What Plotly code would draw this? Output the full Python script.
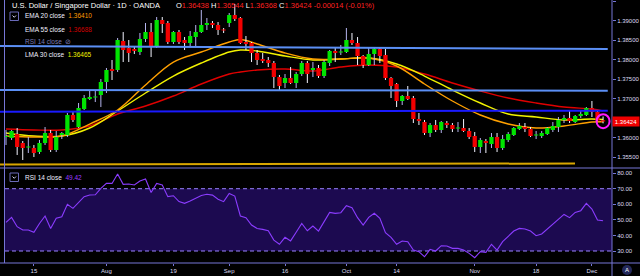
import plotly.graph_objects as go
import pandas as pd

# ---------------- data ----------------
dates = [d.strftime("%Y-%m-%d") for d in pd.bdate_range("2019-07-08", "2019-12-04")]
tick_dates = ["2019-07-15", "2019-08-01", "2019-08-19", "2019-09-02", "2019-09-16",
              "2019-10-01", "2019-10-14", "2019-11-01", "2019-11-18", "2019-12-02"]
tick_text = ["15", "Aug", "19", "Sep", "16", "Oct", "14", "Nov", "18", "Dec"]

opens = [1.36018, 1.35993, 1.36095, 1.35865, 1.35750, 1.35737, 1.35634, 1.35865, 1.36121, 1.35686,
         1.36070, 1.36070, 1.36582, 1.36274, 1.36735, 1.36991, 1.37030, 1.37094, 1.37426, 1.37759,
         1.37734, 1.38476, 1.38297, 1.38271, 1.38194, 1.38527, 1.38706, 1.38322, 1.39014, 1.38937,
         1.38450, 1.38706, 1.38502, 1.38425, 1.38578, 1.38706, 1.38886, 1.38937, 1.38886, 1.38770,
         1.38937, 1.39141, 1.39065, 1.38450, 1.38425, 1.38169, 1.38015, 1.37990, 1.37913, 1.37554,
         1.37401, 1.37529, 1.37401, 1.37631, 1.37913, 1.37734, 1.37785, 1.37580, 1.37913, 1.38220,
         1.38182, 1.38194, 1.38502, 1.38425, 1.38092, 1.37862, 1.38143, 1.38271, 1.38118, 1.37529,
         1.37375, 1.36940, 1.37068, 1.37017, 1.36479, 1.36402, 1.36121, 1.36326, 1.36198, 1.36377,
         1.36326, 1.36236, 1.36249, 1.36172, 1.36044, 1.35763, 1.35916, 1.35839, 1.36018, 1.35737,
         1.35942, 1.36070, 1.36223, 1.36274, 1.36223, 1.36057, 1.36044, 1.36095, 1.36198, 1.36274,
         1.36454, 1.36505, 1.36402, 1.36556, 1.36582, 1.36761, 1.36658, 1.36438]
highs = [1.36198, 1.36198, 1.36249, 1.35916, 1.36018, 1.35814, 1.35942, 1.36274, 1.36198, 1.36172,
         1.36146, 1.36633, 1.36684, 1.36889, 1.37094, 1.37222, 1.37222, 1.37503, 1.37785, 1.37990,
         1.38553, 1.38706, 1.38502, 1.38348, 1.38681, 1.38937, 1.38937, 1.39090, 1.39090, 1.38988,
         1.38732, 1.38758, 1.38578, 1.38732, 1.38886, 1.39270, 1.39065, 1.38988, 1.38962, 1.38809,
         1.39193, 1.39423, 1.39090, 1.38604, 1.38450, 1.38246, 1.38169, 1.38066, 1.37964, 1.37606,
         1.37631, 1.37810, 1.37682, 1.37964, 1.37964, 1.37938, 1.37862, 1.37990, 1.38246, 1.38322,
         1.38374, 1.38809, 1.38681, 1.38578, 1.38118, 1.38297, 1.38297, 1.38297, 1.38271, 1.37554,
         1.37401, 1.37094, 1.37324, 1.37068, 1.36633, 1.36454, 1.36377, 1.36454, 1.36428, 1.36428,
         1.36377, 1.36402, 1.36479, 1.36249, 1.36146, 1.35993, 1.35967, 1.36121, 1.36121, 1.36070,
         1.36146, 1.36274, 1.36377, 1.36377, 1.36274, 1.36172, 1.36172, 1.36274, 1.36402, 1.36530,
         1.36582, 1.36684, 1.36582, 1.36684, 1.36786, 1.36940, 1.36710, 1.36544]
lows = [1.35814, 1.35942, 1.35558, 1.35430, 1.35609, 1.35506, 1.35583, 1.35814, 1.35634, 1.35634,
        1.35967, 1.36018, 1.36402, 1.36249, 1.36710, 1.36966, 1.36914, 1.36786, 1.37145, 1.37478,
        1.37682, 1.37938, 1.37938, 1.38143, 1.38118, 1.38450, 1.38066, 1.38297, 1.38681, 1.38399,
        1.38399, 1.38399, 1.38246, 1.38322, 1.38322, 1.38681, 1.38758, 1.38809, 1.38630, 1.38681,
        1.38834, 1.38988, 1.38399, 1.38246, 1.37938, 1.37862, 1.37913, 1.37810, 1.37273, 1.37222,
        1.37273, 1.37375, 1.37273, 1.37580, 1.37401, 1.37554, 1.37529, 1.37529, 1.37836, 1.37938,
        1.38118, 1.38169, 1.38374, 1.37862, 1.37785, 1.37836, 1.37862, 1.37913, 1.37478, 1.37017,
        1.36786, 1.36838, 1.36966, 1.36377, 1.36326, 1.36070, 1.36018, 1.36146, 1.36121, 1.36249,
        1.36146, 1.36146, 1.36146, 1.35967, 1.35634, 1.35609, 1.35609, 1.35737, 1.35634, 1.35686,
        1.35890, 1.36044, 1.36198, 1.36146, 1.36018, 1.35967, 1.35993, 1.36070, 1.36146, 1.36146,
        1.36377, 1.36377, 1.36377, 1.36505, 1.36556, 1.36530, 1.36428, 1.36368]
closes = [1.36044, 1.36172, 1.35763, 1.35737, 1.35776, 1.35609, 1.35865, 1.36121, 1.35686, 1.36018,
          1.36121, 1.36582, 1.36454, 1.36761, 1.37017, 1.37042, 1.37055, 1.37426, 1.37734, 1.37708,
          1.38502, 1.38246, 1.38169, 1.38220, 1.38527, 1.38706, 1.38322, 1.39014, 1.38911, 1.38450,
          1.38706, 1.38450, 1.38425, 1.38604, 1.38706, 1.38886, 1.38937, 1.38886, 1.38758, 1.38745,
          1.39141, 1.39039, 1.38425, 1.38399, 1.38169, 1.37990, 1.37964, 1.37913, 1.37554, 1.37324,
          1.37529, 1.37401, 1.37631, 1.37913, 1.37631, 1.37785, 1.37580, 1.37938, 1.38220, 1.38169,
          1.38207, 1.38502, 1.38425, 1.38092, 1.37862, 1.38143, 1.38271, 1.38092, 1.37529, 1.37324,
          1.36940, 1.37068, 1.36991, 1.36479, 1.36428, 1.36121, 1.36326, 1.36198, 1.36402, 1.36326,
          1.36223, 1.36262, 1.36172, 1.36018, 1.35763, 1.35942, 1.35865, 1.36018, 1.35737, 1.35967,
          1.36095, 1.36249, 1.36300, 1.36223, 1.36044, 1.36082, 1.36121, 1.36249, 1.36300, 1.36454,
          1.36505, 1.36428, 1.36556, 1.36607, 1.36761, 1.36658, 1.36438, 1.36424]

rsi = [48.4, 51.6, 45.6, 43.5, 43.5, 42.0, 47.7, 52.5, 44.5, 51.0,
       52.0, 60.0, 57.4, 61.0, 64.9, 66.0, 66.1, 70.2, 73.4, 73.4,
       79.4, 72.8, 73.0, 72.4, 74.9, 76.2, 67.6, 73.4, 72.4, 64.9,
       65.5, 61.7, 60.6, 62.1, 63.8, 65.7, 66.4, 65.9, 63.2, 61.7,
       67.0, 65.3, 52.5, 51.4, 46.7, 44.5, 43.9, 43.0, 37.0, 34.3,
       38.8, 36.5, 42.0, 47.7, 43.0, 46.0, 42.8, 48.8, 54.8, 54.2,
       54.6, 59.1, 57.8, 51.4, 46.7, 51.6, 54.2, 51.0, 41.8, 38.8,
       34.3, 36.4, 36.0, 30.6, 29.6, 26.3, 31.1, 30.0, 33.4, 33.2,
       31.7, 31.7, 30.6, 28.5, 25.7, 29.6, 29.1, 34.3, 30.6, 36.0,
       39.2, 42.8, 44.5, 44.1, 42.8, 39.8, 40.9, 44.1, 47.1, 50.5,
       53.5, 51.4, 54.8, 55.9, 60.6, 56.9, 49.9, 49.42]

ma_dates = ["2019-07-08", "2019-07-15", "2019-07-22", "2019-07-29", "2019-08-05", "2019-08-12",
            "2019-08-19", "2019-08-26", "2019-09-02", "2019-09-04", "2019-09-09", "2019-09-16",
            "2019-09-23", "2019-09-30", "2019-10-07", "2019-10-14", "2019-10-21", "2019-10-28",
            "2019-11-04", "2019-11-11", "2019-11-18", "2019-11-25", "2019-12-02", "2019-12-04"]
ema20 = [1.36044, 1.36018, 1.36044, 1.36351, 1.36710, 1.37350, 1.37938, 1.38194, 1.38450, 1.38514,
         1.38399, 1.38169, 1.38015, 1.38015, 1.38041, 1.37836, 1.37375, 1.36940, 1.36582, 1.36351,
         1.36249, 1.36300, 1.36402, 1.36410]
lma30 = [1.36121, 1.36044, 1.36044, 1.36249, 1.36684, 1.37145, 1.37580, 1.37913, 1.38194, 1.38246,
         1.38220, 1.38092, 1.37990, 1.38015, 1.38041, 1.37887, 1.37580, 1.37222, 1.36889, 1.36607,
         1.36530, 1.36454, 1.36479, 1.36465]
ema55 = [1.36223, 1.36198, 1.36198, 1.36300, 1.36607, 1.36812, 1.37068, 1.37375, 1.37631, 1.37682,
         1.37734, 1.37759, 1.37708, 1.37810, 1.37862, 1.37810, 1.37631, 1.37401, 1.37196, 1.37017,
         1.36889, 1.36786, 1.36735, 1.36688]

# drawn trend lines: (start price, end price, end as fraction of width, colour)
line_start = [1.38348, 1.37222, 1.36666, 1.35314]
line_end = [1.38271, 1.37204, 1.36692, 1.35340]
line_xend = [0.993, 0.993, 0.993, 0.939]
line_color = ["#5b8ff5", "#5b8ff5", "#1a1aff", "#d9a600"]

# the 1.36500 label sits under the last-price tag in the reference, so it is not shown
price_ticks = [1.355, 1.360, 1.370, 1.375, 1.380, 1.385, 1.390, 1.395]
rsi_ticks = [30, 40, 50, 60, 70, 80]

# ---------------- layout helpers ----------------
W, H = 640, 276
ML, MR, MT, MB = 5, 28, 0, 13
PW, PH = W - ML - MR, H - MT - MB


def px(x):
    return (x - ML) / PW


def py(y):
    return (PH - (y - MT)) / PH


split = py(168)
idx = {d: i for i, d in enumerate(dates)}
xs = list(range(len(dates)))

BG = "#000000"
AX = "#7676d6"
TXT = "#dcdcf2"
GREEN = "#00e400"
RED = "#f20000"
FONT = "Liberation Sans"

fig = go.Figure()

# moving averages (under candles)
ma_x = [idx[d] for d in ma_dates]
for vals, col in [(ema55, "#e00000"), (lma30, "#f2f200"), (ema20, "#ffa000")]:
    fig.add_trace(go.Scatter(x=ma_x, y=vals, mode="lines", line=dict(color=col, width=1.4, shape="spline"),
                             hoverinfo="skip", yaxis="y"))

# wicks
wx_up, wy_up, wx_dn, wy_dn = [], [], [], []
for i in xs:
    if closes[i] >= opens[i]:
        wx_up += [i, i, None]
        wy_up += [lows[i], highs[i], None]
    else:
        wx_dn += [i, i, None]
        wy_dn += [lows[i], highs[i], None]
fig.add_trace(go.Scatter(x=wx_up, y=wy_up, mode="lines", line=dict(color="#b4b4ee", width=1),
                         hoverinfo="skip", yaxis="y"))
fig.add_trace(go.Scatter(x=wx_dn, y=wy_dn, mode="lines", line=dict(color="#f4f4ff", width=1),
                         hoverinfo="skip", yaxis="y"))

# bodies
hw = 0.38
minh = 0.0003
bx_up, by_up, bx_dn, by_dn = [], [], [], []
for i in xs:
    lo, hi = min(opens[i], closes[i]), max(opens[i], closes[i])
    if hi - lo < minh:
        mid = (hi + lo) / 2
        lo, hi = mid - minh / 2, mid + minh / 2
    rx = [i - hw, i + hw, i + hw, i - hw, i - hw, None]
    ry = [lo, lo, hi, hi, lo, None]
    if closes[i] >= opens[i]:
        bx_up += rx
        by_up += ry
    else:
        bx_dn += rx
        by_dn += ry
fig.add_trace(go.Scatter(x=bx_up, y=by_up, mode="lines", fill="toself", fillcolor=GREEN,
                         line=dict(width=0, color=GREEN), hoverinfo="skip", yaxis="y"))
fig.add_trace(go.Scatter(x=bx_dn, y=by_dn, mode="lines", fill="toself", fillcolor=RED,
                         line=dict(width=0, color=RED), hoverinfo="skip", yaxis="y"))

# RSI
fig.add_trace(go.Scatter(x=xs, y=rsi, mode="lines", line=dict(color="#8b3cff", width=1.1),
                         hoverinfo="skip", yaxis="y2"))

shapes = []
# RSI band
shapes.append(dict(type="rect", xref="paper", yref="y2", x0=0, x1=1, y0=30, y1=70,
                   fillcolor="#1c0a50", line=dict(width=0), layer="below"))
for lv in (70, 30):
    shapes.append(dict(type="line", xref="paper", yref="y2", x0=0, x1=1, y0=lv, y1=lv,
                       line=dict(color="#9a82ff", width=1, dash="4px,3px"), layer="below"))
# drawn lines
for s, e, xe, c in zip(line_start, line_end, line_xend, line_color):
    shapes.append(dict(type="line", xref="paper", yref="y", x0=px(0), x1=xe, y0=s, y1=e,
                       line=dict(color=c, width=2), layer="above"))
# frame lines
shapes.append(dict(type="line", xref="paper", yref="paper", x0=px(0), x1=px(W), y0=split, y1=split,
                   line=dict(color=AX, width=1)))
shapes.append(dict(type="line", xref="paper", yref="paper", x0=px(0), x1=px(W), y0=0, y1=0,
                   line=dict(color=AX, width=1)))
shapes.append(dict(type="line", xref="paper", yref="paper", x0=1, x1=1, y0=py(H), y1=1,
                   line=dict(color=AX, width=1)))
shapes.append(dict(type="line", xref="paper", yref="paper", x0=px(4.5), x1=px(4.5), y0=0, y1=1,
                   line=dict(color=AX, width=1)))
# highlight circle on the last candle
shapes.append(dict(type="circle", xref="x", yref="y", xsizemode="pixel", ysizemode="pixel",
                   xanchor=xs[-1], yanchor=closes[-1], x0=-6.5, x1=6.5, y0=-7, y1=7,
                   line=dict(color="#ff1aff", width=2)))
# dropdown boxes
for (bx0, by0) in [(10, 12), (10, 173)]:
    shapes.append(dict(type="rect", xref="paper", yref="paper", x0=px(bx0), x1=px(bx0 + 8.5),
                       y0=py(by0 + 8.5), y1=py(by0), line=dict(color="#6a6ab8", width=1)))
    shapes.append(dict(type="path", xref="paper", yref="paper",
                       path=f"M {px(bx0+2.5)},{py(by0+3.5)} L {px(bx0+4.25)},{py(by0+5.3)} L {px(bx0+6)},{py(by0+3.5)}",
                       line=dict(color="#d0d0f0", width=1)))
# "A" badge
shapes.append(dict(type="circle", xref="paper", yref="paper", x0=px(622), x1=px(632), y0=py(275), y1=py(265),
                   fillcolor="#23285a", line=dict(width=0)))

ann = []


def text(x, y, s, size=6.5, color=TXT, anchor="left"):
    ann.append(dict(x=px(x), y=py(y), xref="paper", yref="paper", text=s, showarrow=False,
                    xanchor=anchor, yanchor="middle", font=dict(family=FONT, size=size, color=color)))


text(10, 5, "U.S. Dollar / Singapore Dollar · 1D · OANDA", size=7.5, color="#ffffff")
chg = closes[-1] - closes[-2]
pct = chg / closes[-2] * 100
vr = "#ff2020"
ohlc = (f"O<span style='color:{vr}'>{opens[-1]:.5f}</span> H<span style='color:{vr}'>{highs[-1]:.5f}</span> "
        f"L<span style='color:{vr}'>{lows[-1]:.5f}</span> C<span style='color:{vr}'>{closes[-1]:.5f}</span> "
        f"<span style='color:{vr}'>{chg:.5f} ({pct:.2f}%)</span>")
text(174, 5, ohlc, size=7.5, color="#ffffff")

text(23, 16, f"EMA 20 close  <span style='color:#ff9a00'>{ema20[-1]:.5f}</span>", color="#f0f0ff")
text(23, 29, f"EMA 55 close  <span style='color:#d00000'>{ema55[-1]:.5f}</span>", color="#f0f0ff")
text(23, 41.5, "RSI 14 close  ⊘", color="#7c7cb4")
text(23, 54.5, f"LMA 30 close  <span style='color:#f0f000'>{lma30[-1]:.5f}</span>", color="#f0f0ff")
text(23, 177.5, f"RSI 14 close  <span style='color:#9b3cff'>{rsi[-1]:.2f}</span>", color="#f0f0ff")
text(627, 270, "A", size=6, color="#ffffff", anchor="center")
# last price tag
ann.append(dict(x=1.0, y=closes[-1], xref="paper", yref="y", text=f"{closes[-1]:.5f}", showarrow=False,
                xanchor="left", yanchor="middle", bgcolor="#f00000", width=26, height=9, borderpad=0,
                font=dict(family=FONT, size=6, color="#ffffff")))

fig.update_layout(
    width=W, height=H, margin=dict(l=ML, r=MR, t=MT, b=MB),
    paper_bgcolor=BG, plot_bgcolor=BG, showlegend=False,
    shapes=shapes, annotations=ann,
    font=dict(family=FONT, size=6, color=TXT),
    xaxis=dict(range=[-0.18, 108.6], showgrid=False, zeroline=False, showline=False,
               tickvals=[idx[d] for d in tick_dates], ticktext=tick_text, ticks="outside", ticklen=2,
               tickcolor=AX, tickfont=dict(family=FONT, size=6, color=TXT), anchor="y2", fixedrange=True),
    yaxis=dict(domain=[split, 1], range=[1.35225, 1.39526], side="right", anchor="x", showgrid=False,
               zeroline=False, showline=False, tickvals=price_ticks, tickformat=".5f", ticks="outside",
               ticklen=3, tickcolor=AX, tickfont=dict(family=FONT, size=6, color=TXT)),
    yaxis2=dict(domain=[0, split], range=[22.3, 83.3], side="right", anchor="x", showgrid=False,
                zeroline=False, showline=False, tickvals=rsi_ticks, tickformat=".2f", ticks="outside",
                ticklen=3, tickcolor=AX, tickfont=dict(family=FONT, size=6, color=TXT)),
)

fig.write_html("out.html")
